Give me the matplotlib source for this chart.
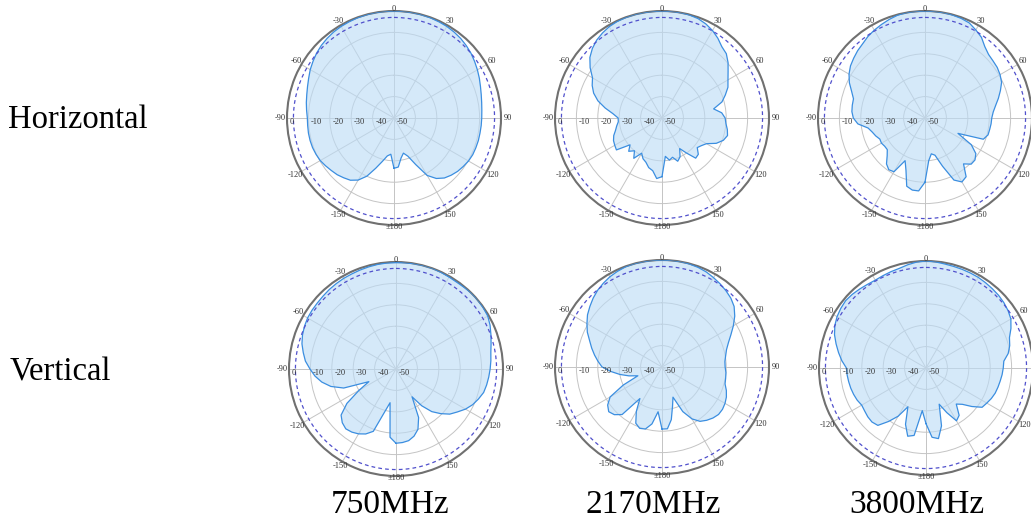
import matplotlib
matplotlib.use("Agg")
import matplotlib.pyplot as plt
import numpy as np

# angle grid, degrees (clockwise from the top)
angles_deg = list(range(-180, 185, 5))

# gain in dB at each angle
h_750 = [-26.5, -33, -32, -29, -25, -20, -16.5, -14.5, -13.5, -12.5,
         -11.8, -11, -10.2, -9.8, -9.5, -9.4, -9.4, -9.5, -9.5, -9,
         -8.4, -7.8, -7, -6, -4.8, -3.8, -2.8, -2, -1.4, -0.9,
         -0.6, -0.4, -0.2, -0.1, 0, 0, 0, 0, 0, -0.1,
         -0.2, -0.4, -0.6, -1, -1.5, -2.2, -3, -4, -5, -6,
         -7, -7.8, -8.4, -8.8, -9, -9.1, -9.2, -9.2, -9.3, -9.4,
         -9.8, -10.5, -11.2, -12.2, -13.4, -15.5, -19, -26, -31, -33,
         -31, -27, -26.5]
h_2170 = [-22.6, -21.6, -25, -26, -28, -29, -31, -27, -30, -28,
          -30.5, -24, -24.5, -25, -26, -27.5, -28.5, -29.5, -29.5, -27,
          -23, -19, -16, -14, -12.5, -9, -6, -4, -2.5, -1.5,
          -0.7, -0.3, -0.1, 0, 0, 0, 0, 0, 0, -0.2,
          -0.6, -1.5, -2.8, -4.5, -6.5, -7.5, -9.7, -12.3, -14.4, -16,
          -18.5, -21, -25.5, -22, -20.5, -20, -19, -18.3, -19.5, -22,
          -26, -27.5, -28.5, -26, -25.5, -30, -33.5, -30, -28.5, -31,
          -30, -32, -22.6]
h_3800 = [-20, -15.8, -15.8, -17, -24, -28, -21, -20.5, -22, -25,
          -27, -27, -26.5, -26.7, -25.5, -24.5, -23, -18.5, -16.5, -15.7,
          -15.5, -15.4, -13.5, -11, -9, -7.5, -6.5, -5.5, -4.7, -3.5,
          -2.6, -1.8, -1, -0.3, 0, 0, 0, 0, 0, -0.2,
          -0.5, -1, -2.5, -4, -6.5, -8, -8.5, -8.8, -9.5, -10.5,
          -12.5, -14.5, -16.5, -18, -18.8, -19, -19.3, -19.5, -21, -33,
          -25, -21, -19.5, -19.5, -22, -16.5, -15.5, -18, -26, -32,
          -33, -30, -20]
v_750 = [-15.3, -18, -34, -29, -19, -16.5, -15, -14, -13.5, -14.5,
         -16.5, -22, -30, -36, -24, -18.5, -14.8, -12, -9.8, -7.5,
         -6, -4.5, -3.5, -2.8, -2.3, -2.1, -2, -1.8, -1.5, -1.3,
         -1.1, -1, -0.8, -0.6, -0.4, -0.3, -0.3, -0.2, -0.1, 0,
         0, -0.2, -0.4, -0.5, -0.3, 0, 0, -0.2, -0.5, -1.5,
         -2.8, -4, -5, -5.5, -6, -6.5, -7, -7.6, -9, -10.5,
         -12.5, -15, -17.2, -20.5, -24, -29, -35, -25, -20, -17.5,
         -16, -15.5, -15.3]
v_2170 = [-21, -29, -23, -20, -19.5, -21, -26, -32, -21, -18.5,
          -17.5, -19, -22, -30, -38, -34, -30, -26, -22, -20,
          -18, -16, -14, -11.5, -9.5, -7.5, -6, -4.5, -3.2, -2.2,
          -1.3, -0.7, -0.2, 0, 0, 0, 0, 0, 0, -0.2,
          -0.5, -1, -1.8, -2.6, -3.5, -4.5, -6, -8.5, -11.5, -14.5,
          -17, -18.8, -19.8, -20.5, -20.5, -20, -19.8, -19.5, -18, -16.8,
          -16, -15.5, -15.5, -16.3, -17.5, -19, -22, -27, -35, -31,
          -25, -21, -21]
v_3800 = [-24, -30, -18, -17, -22, -30, -24, -19.5, -15, -14.3,
          -14.5, -15, -15.3, -14.5, -14, -13.6, -13.3, -13, -12.8, -10.5,
          -8.5, -6.5, -4.5, -3, -2, -1.4, -1, -1.3, -1.8, -2.3,
          -2.6, -2.4, -2.1, -1.8, -1, -0.3, 0, -0.2, -0.6, -0.8,
          -0.9, -1, -1.1, -1.4, -1.7, -2, -2.5, -3.2, -4.2, -6.2,
          -8.5, -9.5, -11, -13.5, -13.9, -14.3, -14.8, -15.2, -15.6, -16.3,
          -17.2, -18, -22, -26, -28, -23, -21.5, -27, -32, -22,
          -16.5, -17.5, -24]

row_labels = ["Horizontal", "Vertical"]
col_labels = ["750MHz", "2170MHz", "3800MHz"]
patterns = [[h_750, h_2170, h_3800], [v_750, v_2170, v_3800]]

ring_values = [-40, -30, -20, -10]
r_label_values = [0, -10, -20, -30, -40, -50]
theta_ticks = [0, 30, 60, 90, 120, 150, 180, 210, 240, 270, 300, 330]
theta_labels = ["0", "30", "60", "90", "120", "150", "\u00b1180",
                "-150", "-120", "-90", "-60", "-30"]
half_power = -3

# pixel centres of the six dials in the 1031x529 picture
W, H = 1031, 529
R = 107
centres = [[(394, 118), (662, 118), (925, 118)],
           [(396, 369), (662, 367), (926, 368)]]

fig = plt.figure(figsize=(W / 100, H / 100), dpi=100)
serif = "Liberation Serif"

theta = np.deg2rad(angles_deg)
for row in range(2):
    for col in range(3):
        cx, cy = centres[row][col]
        ax = fig.add_axes([(cx - R) / W, (H - cy - R) / H, 2 * R / W, 2 * R / H],
                          projection="polar")
        ax.set_theta_zero_location("N")
        ax.set_theta_direction(-1)
        ax.set_ylim(-50, 0)
        gain = patterns[row][col]
        ax.fill(theta, gain, color="#bcdcf6", alpha=0.62, lw=0, zorder=2)
        ax.plot(theta, gain, color="#3b8ee0", lw=0.9, zorder=3)
        ring = np.linspace(0, 2 * np.pi, 200)
        ax.plot(ring, [half_power] * len(ring), color="#5050cc", lw=0.9,
                ls=(0, (3, 2.5)), zorder=4)
        ax.set_yticks(ring_values)
        ax.set_yticklabels([])
        ax.set_xticks(np.deg2rad(theta_ticks))
        ax.set_xticklabels([])
        ax.tick_params(axis="x", length=0)
        ax.grid(color="#c4c4c4", lw=0.7, zorder=1)
        ax.spines["polar"].set_color("#707070")
        ax.spines["polar"].set_linewidth(1.5)
        # angle labels hug the rim, a bit further out at the sides
        for t, lab in zip(theta_ticks, theta_labels):
            r_out = 0.9 + 2.4 * abs(np.sin(np.deg2rad(t)))
            ax.text(np.deg2rad(t), r_out, lab, fontsize=6, family=serif,
                    color="#333333", ha="center", va="center", clip_on=False,
                    zorder=5)
        for v in r_label_values:
            ax.annotate(str(v), (-np.pi / 2, v), xytext=(2, -3),
                        textcoords="offset points", fontsize=6, family=serif,
                        color="#333333", ha="left", va="center", zorder=5)

fig.text(8 / W, 1 - 120 / H, row_labels[0], fontsize=23.5, family=serif,
         ha="left", va="center")
fig.text(10 / W, 1 - 372 / H, row_labels[1], fontsize=23.5, family=serif,
         ha="left", va="center")
for x, lab in zip([390, 653, 917], col_labels):
    fig.text(x / W, 1 - 505 / H, lab, fontsize=24, family=serif,
             ha="center", va="center")

fig.savefig("out.png", dpi=100)
